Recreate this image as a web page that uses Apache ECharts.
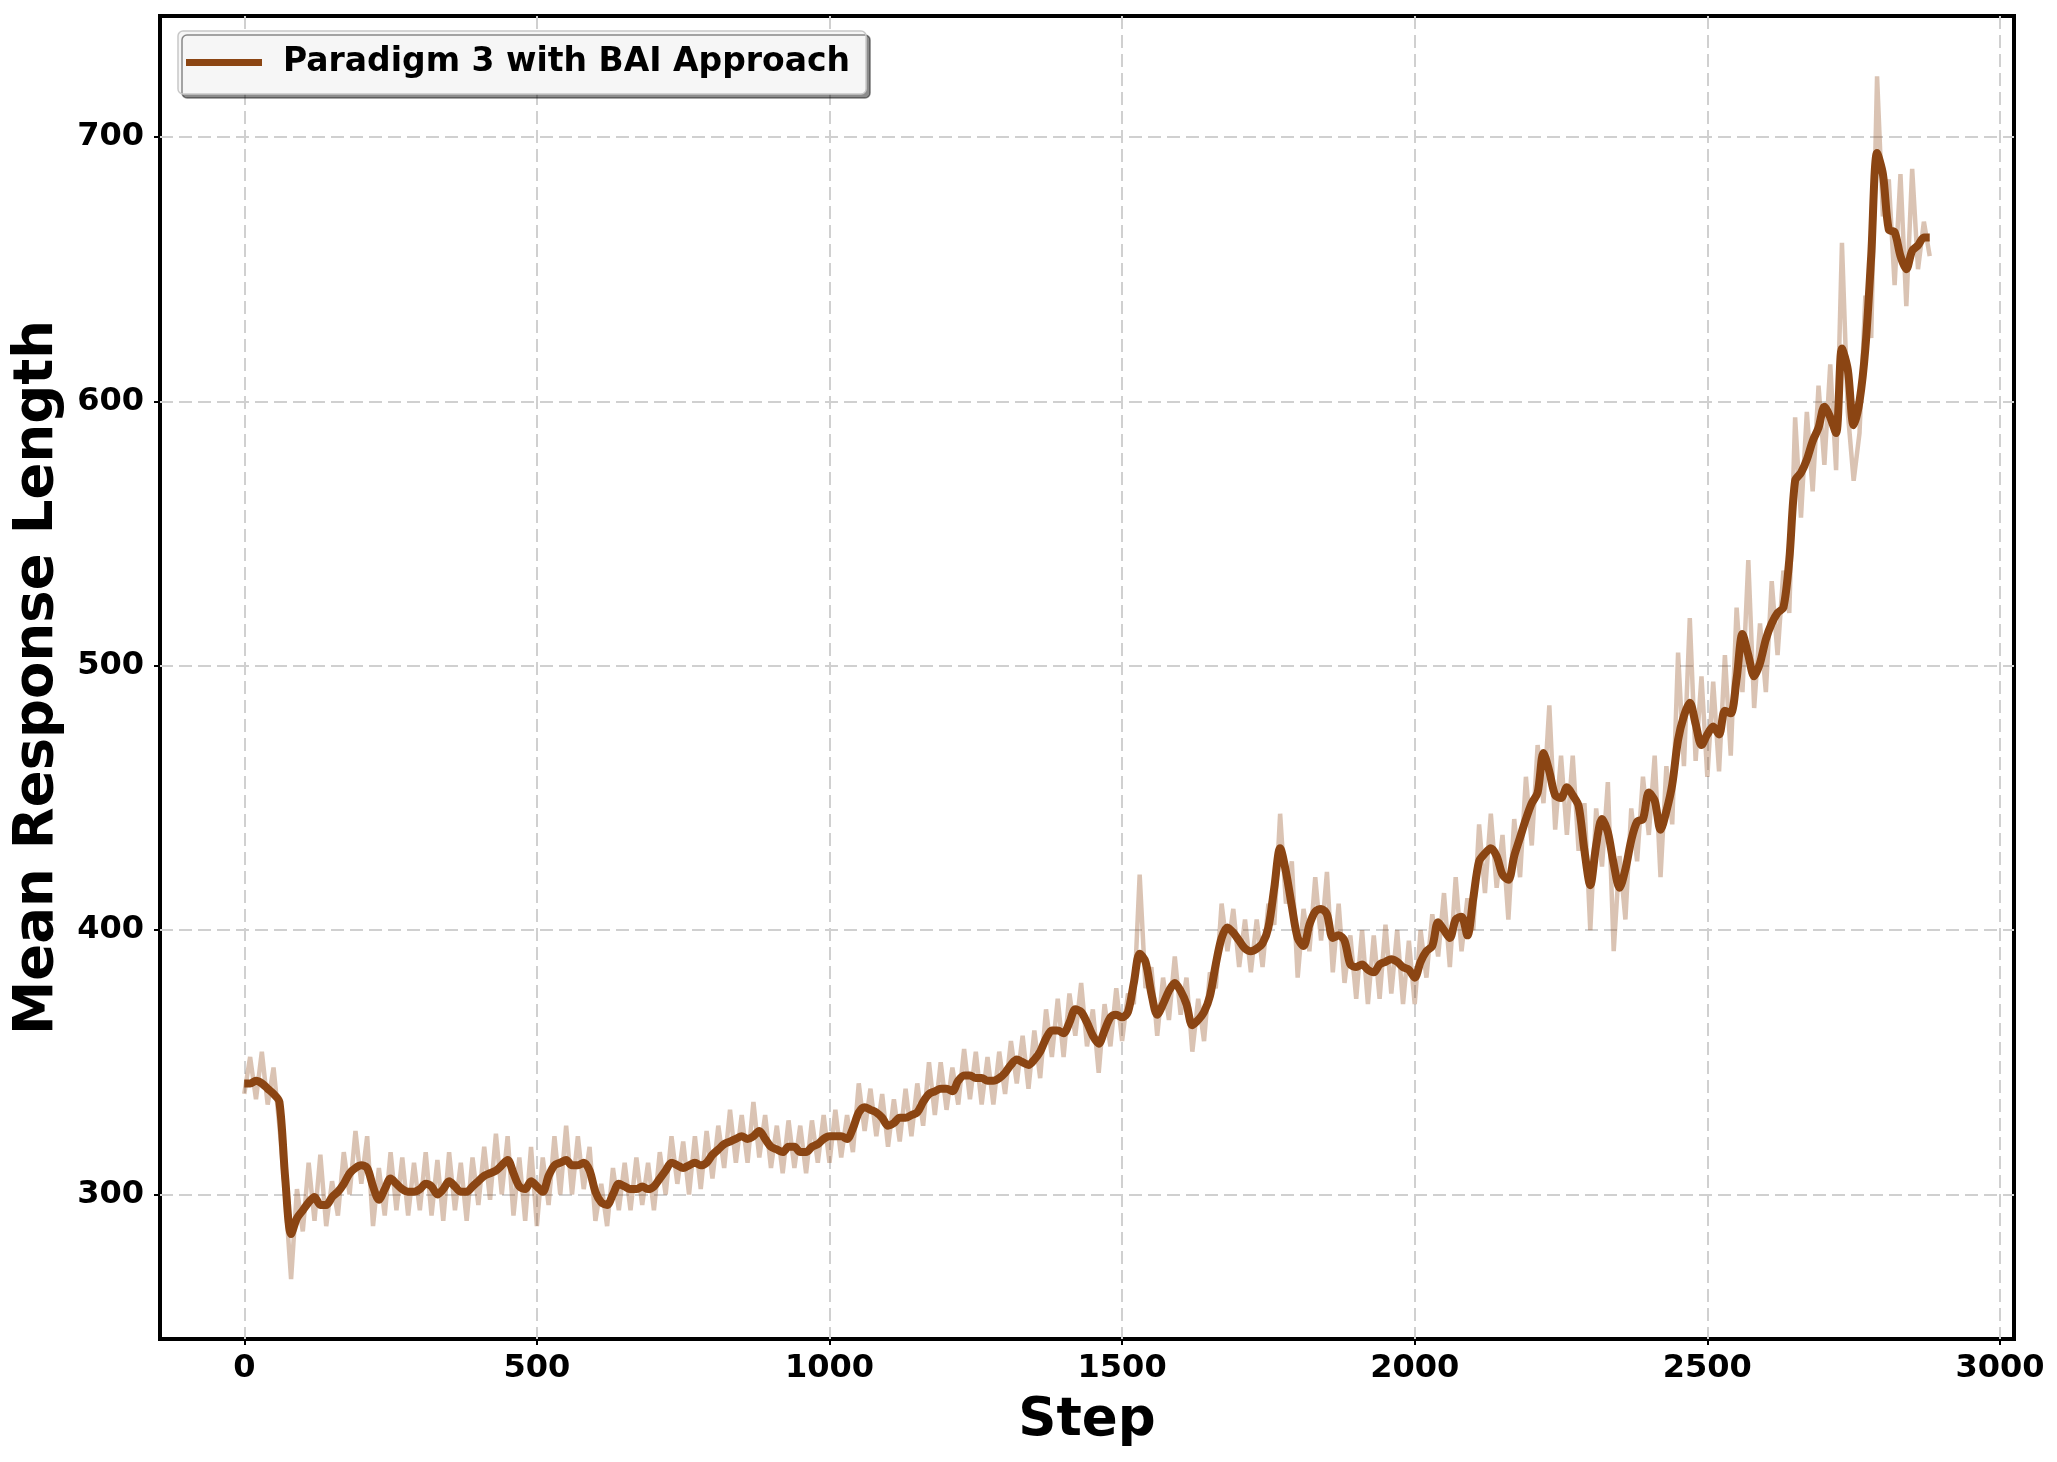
<!DOCTYPE html>
<html>
<head>
<meta charset="utf-8">
<script src="https://cdn.jsdelivr.net/npm/echarts@6/dist/echarts.min.js"></script>
<style>
  html, body { margin: 0; padding: 0; background: #fff; }
  #chart { width: 2057px; height: 1462px; }
</style>
</head>
<body>
<div id="chart"></div>
<script>
// one reading every 10 steps, step 0 .. 2880
const stepSize = 10;
const xTicks = [0, 500, 1000, 1500, 2000, 2500, 3000];
const yTicks = [300, 400, 500, 600, 700];
const seriesName = "Paradigm 3 with BAI Approach";

// raw (light) curve
const rawLength = [
  338, 352, 336, 354, 334, 348, 326, 300, 268, 302,
  286, 312, 290, 315, 288, 305, 292, 316, 300, 324,
  304, 322, 288, 310, 292, 316, 294, 314, 292, 312,
  294, 316, 292, 313, 290, 316, 294, 312, 290, 314,
  296, 318, 298, 323, 300, 322, 292, 314, 290, 318,
  288, 314, 296, 322, 300, 326, 300, 322, 302, 318,
  290, 304, 288, 310, 294, 312, 294, 314, 296, 312,
  294, 316, 300, 322, 304, 320, 300, 322, 302, 324,
  306, 326, 310, 332, 312, 330, 312, 335, 314, 330,
  310, 326, 308, 328, 310, 326, 308, 328, 312, 330,
  312, 332, 314, 330, 316, 342, 324, 340, 322, 338,
  318, 336, 320, 340, 322, 342, 326, 350, 330, 350,
  332, 348, 334, 355, 336, 354, 334, 352, 334, 354,
  338, 358, 342, 360, 340, 362, 344, 370, 352, 374,
  352, 376, 360, 380, 356, 370, 346, 372, 356, 378,
  358, 376, 372, 421, 378, 386, 360, 382, 366, 390,
  368, 382, 354, 374, 358, 384, 378, 410, 392, 408,
  386, 404, 384, 404, 386, 410, 402, 444, 410, 426,
  382, 408, 392, 420, 396, 422, 384, 410, 380, 398,
  374, 400, 372, 398, 374, 402, 376, 400, 372, 396,
  372, 400, 382, 406, 390, 414, 386, 420, 392, 412,
  400, 440, 414, 444, 416, 436, 404, 442, 420, 458,
  432, 470, 448, 485, 438, 466, 436, 466, 430, 448,
  400, 446, 424, 456, 392, 428, 404, 446, 426, 458,
  436, 466, 420, 462, 440, 505, 462, 518, 464, 496,
  458, 494, 460, 504, 466, 522, 490, 540, 484, 516,
  490, 532, 504, 536, 520, 594, 556, 596, 566, 606,
  576, 614, 574, 660, 596, 570, 588, 640, 624, 723,
  670, 684, 644, 686, 636, 688, 650, 668, 655
];

// smoothed (dark) curve
const smoothLength = [
  342, 342, 343, 342, 340, 338, 335, 306, 285, 291,
  294, 297, 299, 296, 296, 299, 301, 304, 308, 310,
  311, 310, 303, 298, 302, 306, 304, 302, 301, 301,
  302, 304, 303, 300, 302, 305, 303, 301, 301, 303,
  305, 307, 308, 309, 311, 313, 308, 303, 302, 305,
  303, 301, 307, 311, 312, 313, 311, 311, 312, 309,
  301, 297, 296, 300, 304, 303, 302, 302, 303, 302,
  303, 306, 309, 312, 311, 310, 311, 312, 311, 312,
  315, 317, 319, 320, 321, 322, 321, 322, 324, 321,
  318, 317, 316, 318, 318, 316, 316, 318, 319, 321,
  322, 322, 322, 321, 325, 331, 333, 332, 331, 329,
  326, 327, 329, 329, 330, 331, 335, 338, 339, 340,
  340, 339, 343, 345, 345, 344, 344, 343, 343, 344,
  346, 349, 351, 350, 349, 351, 354, 359, 362, 362,
  361, 365, 370, 369, 365, 360, 357, 362, 367, 368,
  367, 369, 380, 391, 388, 376, 368, 372, 377, 380,
  377, 372, 364, 366, 369, 375, 387, 397, 401, 399,
  396, 393, 392, 393, 395, 401, 416, 431, 422, 409,
  397, 394, 402, 407, 408, 406, 397, 398, 396, 387,
  386, 387, 385, 384, 387, 388, 389, 388, 386, 385,
  382, 388, 392, 394, 403, 400, 397, 404, 405, 398,
  412, 426, 429, 431, 428, 421, 419, 428, 435, 442,
  448, 452, 467, 460, 451, 450, 454, 451, 447, 430,
  417, 432, 442, 437, 425, 416, 423, 434, 441, 442,
  452, 449, 438, 445, 455, 472, 481, 486, 478, 470,
  474, 477, 474, 483, 482, 495, 512, 504, 496, 501,
  510, 516, 520, 522, 540, 570, 573, 578, 585, 590,
  598, 594, 588, 620, 612, 591, 600, 620, 655, 694,
  686, 665, 664, 655, 650, 657, 659, 662, 662
];

const font = "DejaVu Sans";
const lineColor = "#8B4513";
const gridDash = { color: "#d0d0d0", width: 2, type: [13, 6] };

const toPairs = (arr) => arr.map((v, i) => [i * stepSize, v]);

const myChart = echarts.init(document.getElementById("chart"));

const option = {
  animation: false,
  backgroundColor: "#fff",
  grid: {
    left: 160,
    right: 43,
    top: 16,
    bottom: 123,
    show: true,
    borderColor: "#000",
    borderWidth: 4,
  },
  legend: {
    data: [seriesName],
    left: 178,
    top: 31,
    padding: [15, 16, 15, 8],
    backgroundColor: "#f6f6f6",
    borderColor: "#c8c8c8",
    borderWidth: 1.5,
    borderRadius: 5,
    shadowColor: "rgba(0,0,0,0.45)",
    shadowBlur: 0,
    shadowOffsetX: 4,
    shadowOffsetY: 4,
    icon: "rect",
    itemWidth: 76,
    itemHeight: 7,
    textStyle: {
      fontFamily: font,
      fontWeight: "bold",
      fontSize: 33,
      color: "#000",
      padding: [0, 0, 0, 16],
    },
  },
  xAxis: {
    type: "value",
    min: -144,
    max: 3024,
    name: "Step",
    nameLocation: "middle",
    nameGap: 56,
    nameTextStyle: {
      fontFamily: font,
      fontWeight: "bold",
      fontSize: 53,
      color: "#000",
    },
    axisLine: { show: false, onZero: false },
    axisTick: {
      show: true,
      customValues: xTicks,
      length: 6,
      lineStyle: { color: "#000", width: 2 },
    },
    axisLabel: {
      customValues: xTicks,
      formatter: (v) => String(v),
      margin: 14,
      fontFamily: font,
      fontWeight: "bold",
      fontSize: 32,
      color: "#000",
    },
    splitLine: { show: true, lineStyle: gridDash },
  },
  yAxis: {
    type: "value",
    min: 245.3,
    max: 745.8,
    name: "Mean Response Length",
    nameLocation: "middle",
    nameGap: 95,
    nameTextStyle: {
      fontFamily: font,
      fontWeight: "bold",
      fontSize: 54.5,
      color: "#000",
    },
    axisLine: { show: false, onZero: false },
    axisTick: {
      show: true,
      customValues: yTicks,
      length: 6,
      lineStyle: { color: "#000", width: 2 },
    },
    axisLabel: {
      customValues: yTicks,
      formatter: (v) => String(v),
      margin: 16,
      fontFamily: font,
      fontWeight: "bold",
      fontSize: 32,
      color: "#000",
    },
    splitLine: { show: true, lineStyle: gridDash },
  },
  series: [
    {
      name: "raw",
      type: "line",
      data: toPairs(rawLength),
      showSymbol: false,
      symbol: "none",
      lineStyle: { color: lineColor, width: 4.5, opacity: 0.32 },
      z: 2,
    },
    {
      name: seriesName,
      type: "line",
      data: toPairs(smoothLength),
      showSymbol: false,
      symbol: "none",
      smooth: 0.3,
      itemStyle: { color: lineColor },
      lineStyle: { color: lineColor, width: 8 },
      z: 3,
    },
  ],
};

myChart.setOption(option);
</script>
</body>
</html>
